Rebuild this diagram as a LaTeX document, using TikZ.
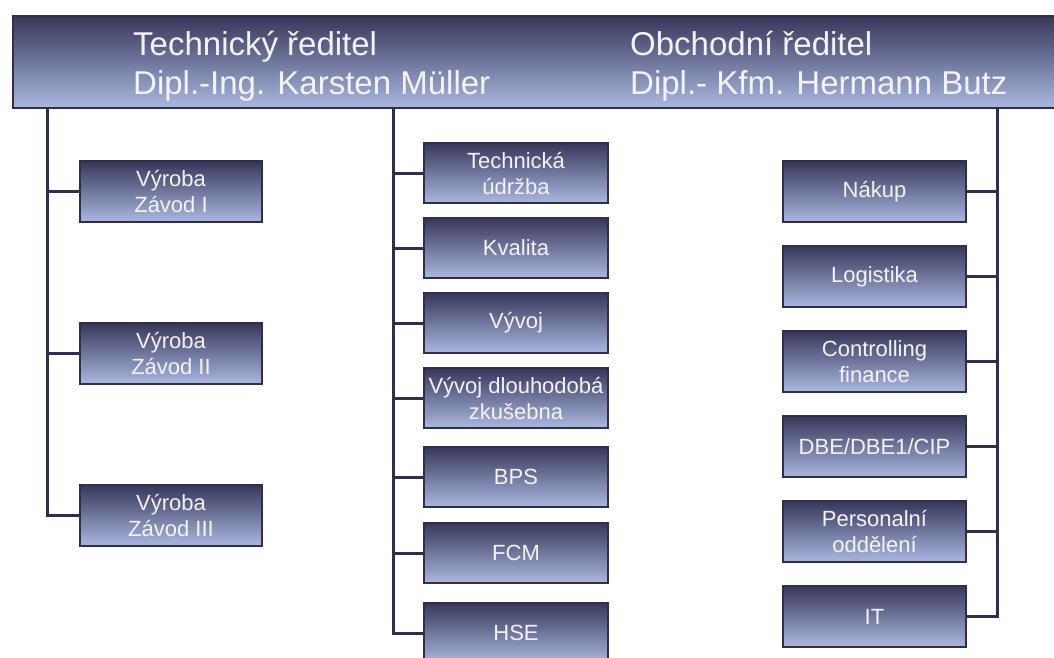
\documentclass[tikz,border=0pt]{standalone}
\usepackage{fontspec}
\setmainfont{Liberation Sans}
\definecolor{navy}{HTML}{2E2E4E}
\definecolor{topc}{HTML}{37375A}
\definecolor{botc}{HTML}{AAB8E0}
\definecolor{txt}{HTML}{F2F3FA}
\begin{document}
\begin{tikzpicture}[x=1pt,y=-1pt,
  box/.style={draw=navy, line width=2.5pt, top color=topc, bottom color=botc,
    minimum height=61pt, inner sep=0pt, align=center, text=txt,
    font=\fontsize{22}{26}\selectfont},
  lbox/.style={box, minimum width=182pt},
  mbox/.style={box, minimum width=184pt, minimum height=60pt},
  rbox/.style={box, minimum width=183pt},
  head/.style={anchor=base west, text=txt, inner sep=0pt,
    font=\fontsize{33}{39}\selectfont},
  conn/.style={draw=navy, line width=3pt}
]
\useasboundingbox (0,0) rectangle (1054,657);
\fill[white] (0,0) rectangle (1054,657);

% top bar
\node[draw=navy, line width=2pt, top color=topc, bottom color=botc,
  minimum width=1060pt, minimum height=92pt, inner sep=0pt, anchor=north west]
  (bar) at (12,15) {};
\node[head] (tech1) at (133,55) {Technický ředitel};
\node[head] (tech2) at (133,94) {Dipl.-Ing. Karsten Müller};
\node[head] (obch1) at (630,55) {Obchodní ředitel};
\node[head] (obch2) at (630,94) {Dipl.- Kfm. Hermann Butz};

% left column
\node[lbox] (l1) at (171,191.5) {Výroba\\Závod I};
\node[lbox] (l2) at (171,353.5) {Výroba\\Závod II};
\node[lbox] (l3) at (171,515.5) {Výroba\\Závod III};

% middle column
\node[mbox] (m1) at (516,173) {Technická\\údržba};
\node[mbox] (m2) at (516,248) {Kvalita};
\node[mbox] (m3) at (516,323) {Vývoj};
\node[mbox] (m4) at (516,398) {Vývoj dlouhodobá\\zkušebna};
\node[mbox] (m5) at (516,477) {BPS};
\node[mbox] (m6) at (516,553) {FCM};
\node[mbox] (m7) at (516,633) {HSE};

% right column
\node[rbox] (r1) at (874.5,191.5) {Nákup};
\node[rbox] (r2) at (874.5,276.5) {Logistika};
\node[rbox] (r3) at (874.5,361.5) {Controlling\\finance};
\node[rbox] (r4) at (874.5,446.5) {DBE/DBE1/CIP};
\node[rbox] (r5) at (874.5,531.5) {Personalní\\oddělení};
\node[rbox] (r6) at (874.5,616.5) {IT};

% connector roots
\coordinate (lroot) at (47,108);
\coordinate (mroot) at (393,108);
\coordinate (rroot) at (997,108);

\draw[conn] (lroot) |- (l3.west);
\foreach \n in {l1,l2} \draw[conn] (lroot |- \n.west) -- (\n.west);
\draw[conn] (mroot) |- (m7.west);
\foreach \n in {m1,m2,m3,m4,m5,m6} \draw[conn] (mroot |- \n.west) -- (\n.west);
\draw[conn] (rroot) |- (r6.east);
\foreach \n in {r1,r2,r3,r4,r5} \draw[conn] (rroot |- \n.east) -- (\n.east);
\end{tikzpicture}
\end{document}
